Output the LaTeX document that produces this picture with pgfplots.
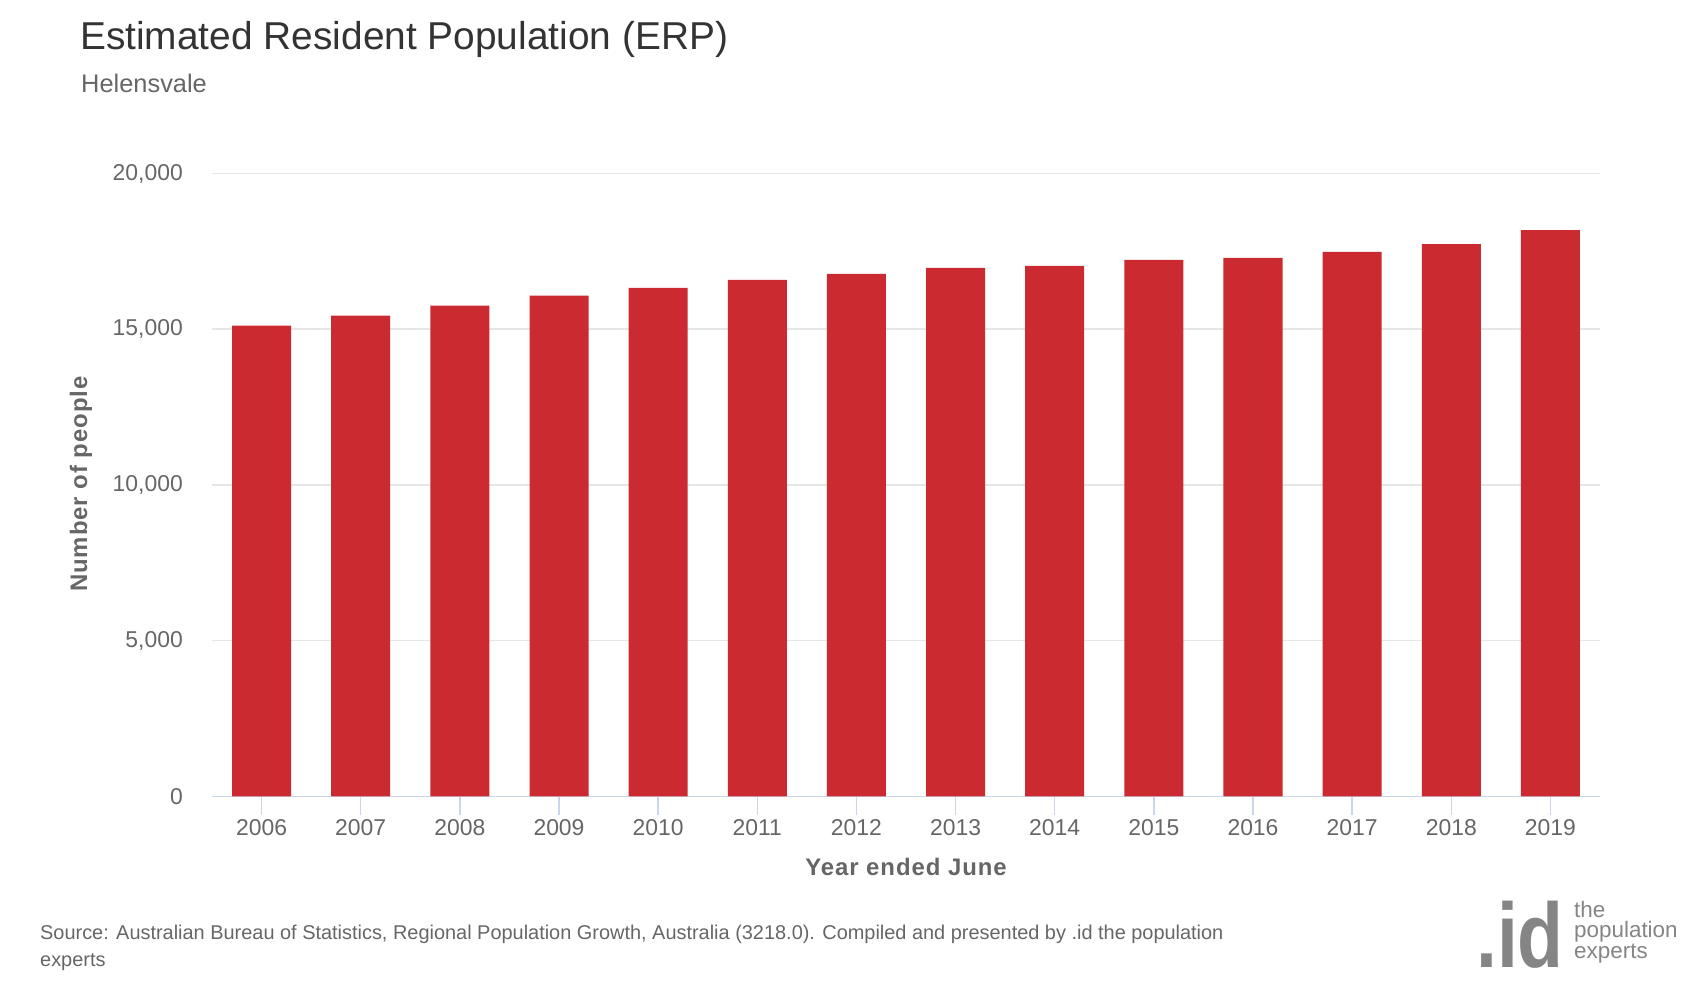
\documentclass[border=0pt]{standalone}
\usepackage{fontspec}
\setmainfont{Liberation Sans}
\newfontfamily\labfont[LetterSpace=4.0]{Liberation Sans}
\usepackage{pgfplots}
\pgfplotsset{compat=1.18}
\definecolor{barred}{HTML}{CB2B30}
\definecolor{gridcol}{HTML}{E6E6E6}
\definecolor{axiscol}{HTML}{CCD6EB}
\definecolor{titlecol}{HTML}{333333}
\definecolor{txtcol}{HTML}{666666}
\definecolor{logocol}{HTML}{858585}
\begin{document}
\begin{tikzpicture}[x=1bp,y=1bp]
\path[use as bounding box] (0bp,0bp) rectangle (1700bp,1000bp);
\begin{axis}[
  at={(212bp,203.5bp)}, anchor=south west,
  scale only axis, width=1388bp, height=623bp,
  xmin=-0.5, xmax=13.5, ymin=0, ymax=20000,
  axis lines*=left,
  y axis line style={draw=none},
  x axis line style={-, draw=axiscol, line width=1.5bp},
  tick align=outside,
  major tick length=18bp,
  xtick={0,...,13},
  xticklabels={2006,2007,2008,2009,2010,2011,2012,2013,2014,2015,2016,2017,2018,2019},
  xtick style={draw=axiscol, line width=1.5bp},
  ytick={0,5000,10000,15000,20000},
  ytick style={draw=none},
  ymajorgrids,
  major grid style={draw=gridcol, line width=1.5bp},
  scaled y ticks=false,
  /pgf/number format/1000 sep={,},
  /pgf/number format/assume math mode=true,
  ticklabel style={font=\fontsize{23}{27}\selectfont, text=txtcol, inner sep=0pt},
  yticklabel style={anchor=east, xshift=-11bp},
  xticklabel style={anchor=north, yshift=-5bp},
  clip=false,
]
\addplot[ybar, bar width=59bp, bar shift=0pt, fill=barred, draw=none] coordinates {
  (0,15120) (1,15439) (2,15758) (3,16077) (4,16332) (5,16587) (6,16778)
  (7,16970) (8,17033) (9,17225) (10,17289) (11,17480) (12,17735) (13,18182)
};
\end{axis}
\node[anchor=base west, inner sep=0pt, text=titlecol, font=\fontsize{39}{47}\selectfont] at (80bp,950bp) {Estimated Resident Population (ERP)};
\node[anchor=base west, inner sep=0pt, text=txtcol, font=\fontsize{25.5}{30}\selectfont] at (81bp,907bp) {Helensvale};
\node[rotate=90, anchor=base, inner sep=0pt, text=txtcol, font=\labfont\bfseries\fontsize{24}{28}\selectfont] at (87bp,516bp) {Number of people};
\node[anchor=base, inner sep=0pt, text=txtcol, font=\labfont\bfseries\fontsize{24}{28}\selectfont] at (906bp,124bp) {Year ended June};
\node[anchor=base west, inner sep=0pt, text=txtcol, font=\fontsize{20}{23}\selectfont] at (40bp,60bp) {Source: Australian Bureau of Statistics, Regional Population Growth, Australia (3218.0). Compiled and presented by .id the population};
\node[anchor=base west, inner sep=0pt, text=txtcol, font=\fontsize{20}{23}\selectfont] at (40bp,34bp) {experts};
\node[anchor=base west, inner sep=0pt, text=logocol, xscale=0.82, font=\bfseries\fontsize{92}{92}\selectfont] at (1476bp,33bp) {.id};
\node[anchor=base west, inner sep=0pt, text=logocol, font=\fontsize{22.5}{24}\selectfont] at (1574bp,82bp) {the};
\node[anchor=base west, inner sep=0pt, text=logocol, font=\fontsize{22.5}{24}\selectfont] at (1574bp,62bp) {population};
\node[anchor=base west, inner sep=0pt, text=logocol, font=\fontsize{22.5}{24}\selectfont] at (1574bp,41bp) {experts};
\end{tikzpicture}
\end{document}
